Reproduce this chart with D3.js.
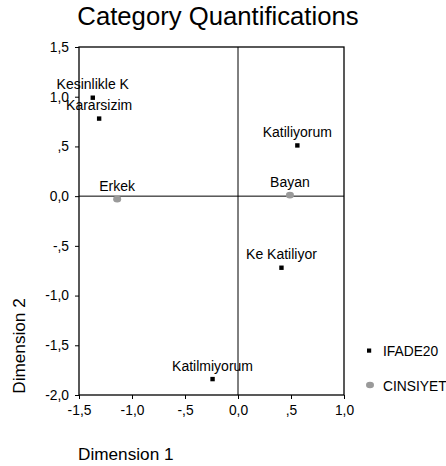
<!DOCTYPE html>
<html lang="en">
<head>
  <meta charset="UTF-8">
  <title>Category Quantifications</title>
  <script src="https://d3js.org/d3.v7.min.js"></script>
  <style>
    body { margin: 0; background: #fff; font-family: "Liberation Sans", Arial, sans-serif; }
    text { fill: #000; }
  </style>
</head>
<body>
  <svg width="446" height="466"></svg>
  <script>
    // category labels and coordinates
    const ifadeLabels = ["Kesinlikle K", "Kararsizim", "Katiliyorum", "Ke Katiliyor", "Katilmiyorum"];
    const ifadeDim1 = [-1.37, -1.31, 0.56, 0.41, -0.24];
    const ifadeDim2 = [0.99, 0.78, 0.51, -0.72, -1.84];

    const cinsLabels = ["Erkek", "Bayan"];
    const cinsDim1 = [-1.14, 0.49];
    const cinsDim2 = [-0.03, 0.01];

    const xTicks = [-1.5, -1.0, -0.5, 0.0, 0.5, 1.0];
    const yTicks = [-2.0, -1.5, -1.0, -0.5, 0.0, 0.5, 1.0, 1.5];

    const svg = d3.select("svg");
    const plotL = 79, plotR = 344, plotT = 47, plotB = 395;
    const ff = "Liberation Sans, Arial, sans-serif";

    const x = d3.scaleLinear().domain([-1.5, 1.0]).range([plotL, plotR]);
    const y = d3.scaleLinear().domain([-2.0, 1.5]).range([plotB, plotT]);

    // SPSS style number format: 0,5 -> ",5"
    function fmt(v) {
      let s = Math.abs(v).toFixed(1).replace(".", ",");
      if (s.startsWith("0,") && v !== 0) s = s.slice(1);
      return (v < 0 ? "-" : "") + s;
    }

    svg.append("text")
      .attr("x", 218).attr("y", 25)
      .attr("text-anchor", "middle")
      .attr("font-size", 25.7)
      .text("Category Quantifications");

    // axes
    svg.append("g")
      .attr("transform", `translate(0,${plotB})`)
      .call(d3.axisBottom(x).tickValues(xTicks).tickFormat(fmt).tickSize(4).tickPadding(6).tickSizeOuter(0))
      .call(g => g.select(".domain").remove())
      .call(g => g.selectAll("line").attr("stroke", "#000"))
      .call(g => g.selectAll("text").attr("font-size", 13.8).attr("font-family", ff));

    svg.append("g")
      .attr("transform", `translate(${plotL},0)`)
      .call(d3.axisLeft(y).tickValues(yTicks).tickFormat(fmt).tickSize(4).tickPadding(6).tickSizeOuter(0))
      .call(g => g.select(".domain").remove())
      .call(g => g.selectAll("line").attr("stroke", "#000"))
      .call(g => g.selectAll("text").attr("font-size", 13.8).attr("font-family", ff));

    // frame and reference lines
    svg.append("rect")
      .attr("x", plotL).attr("y", plotT)
      .attr("width", plotR - plotL).attr("height", plotB - plotT)
      .attr("fill", "none").attr("stroke", "#000").attr("stroke-width", 1.3);

    svg.append("line")
      .attr("x1", x(0)).attr("x2", x(0)).attr("y1", plotT).attr("y2", plotB)
      .attr("stroke", "#000");
    svg.append("line")
      .attr("x1", plotL).attr("x2", plotR).attr("y1", y(0)).attr("y2", y(0))
      .attr("stroke", "#000");

    const ifade = ifadeLabels.map((l, i) => ({ label: l, d1: ifadeDim1[i], d2: ifadeDim2[i] }));
    const cins = cinsLabels.map((l, i) => ({ label: l, d1: cinsDim1[i], d2: cinsDim2[i] }));

    // CINSIYET points
    svg.selectAll(".cins")
      .data(cins)
      .enter().append("ellipse")
      .attr("class", "cins")
      .attr("cx", d => x(d.d1)).attr("cy", d => y(d.d2))
      .attr("rx", 4).attr("ry", 3.3)
      .attr("fill", "#9a9a9a");

    // IFADE20 points
    svg.selectAll(".ifade")
      .data(ifade)
      .enter().append("rect")
      .attr("class", "ifade")
      .attr("x", d => x(d.d1) - 2.2).attr("y", d => y(d.d2) - 2.2)
      .attr("width", 4.4).attr("height", 4.4)
      .attr("fill", "#000");

    svg.selectAll(".lbl")
      .data(ifade.concat(cins))
      .enter().append("text")
      .attr("class", "lbl")
      .attr("x", d => x(d.d1)).attr("y", d => y(d.d2) - 8.5)
      .attr("text-anchor", "middle")
      .attr("font-size", 14)
      .text(d => d.label);

    // axis titles
    svg.append("text")
      .attr("transform", "translate(24.5,346) rotate(-90)")
      .attr("text-anchor", "middle")
      .attr("font-size", 17.2)
      .text("Dimension 2");

    svg.append("text")
      .attr("x", 78).attr("y", 460)
      .attr("font-size", 17.2)
      .text("Dimension 1");

    // legend
    const legend = svg.append("g");
    legend.append("rect")
      .attr("x", 367).attr("y", 348.5).attr("width", 4.2).attr("height", 4.2).attr("fill", "#000");
    legend.append("text")
      .attr("x", 383).attr("y", 356).attr("font-size", 13.8).text("IFADE20");
    legend.append("ellipse")
      .attr("cx", 370).attr("cy", 385).attr("rx", 4).attr("ry", 3.3).attr("fill", "#9a9a9a");
    legend.append("text")
      .attr("x", 383).attr("y", 390.5).attr("font-size", 13.8).text("CINSIYET");
  </script>
</body>
</html>
